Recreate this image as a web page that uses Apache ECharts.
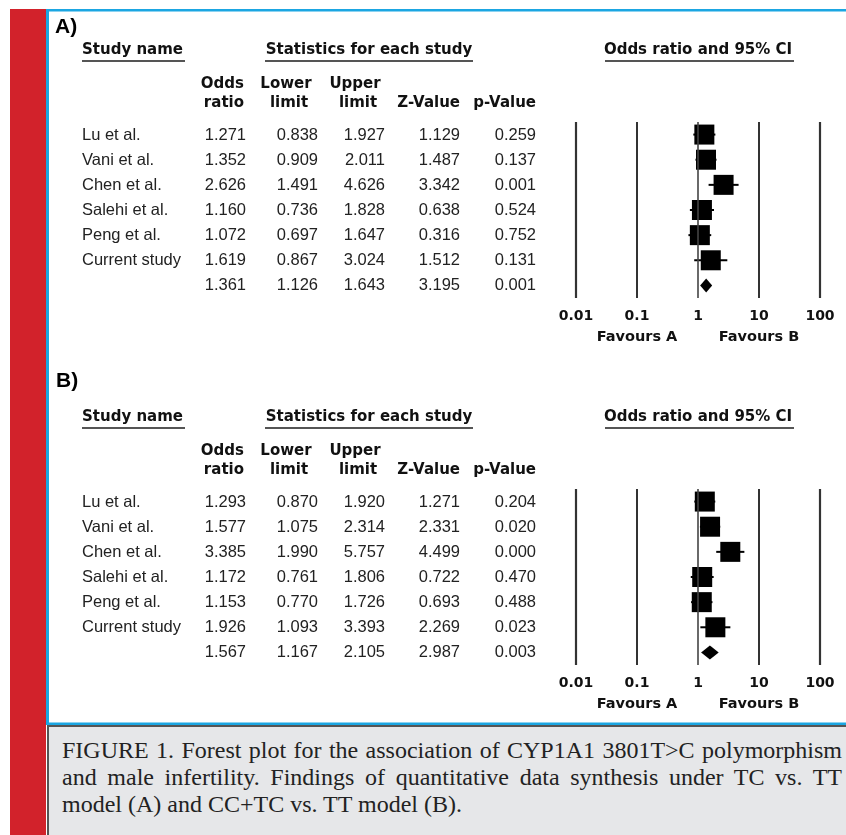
<!DOCTYPE html>
<html>
<head>
<meta charset="utf-8">
<script src="https://cdn.jsdelivr.net/npm/echarts@6/dist/echarts.min.js"></script>
<style>
html,body{margin:0;padding:0;background:#fff;}
#chart{position:absolute;left:0;top:0;width:846px;height:835px;}
#cap{position:absolute;left:47px;top:725px;width:797px;height:108px;background:#e6e7e9;border-left:2px solid #555;border-top:2px solid #555;}
#cap .t{position:absolute;left:13px;top:10px;width:780px;font-family:"Liberation Serif",serif;font-size:24px;line-height:27px;color:#222;}
#cap .j{text-align:justify;text-align-last:justify;white-space:nowrap;}
</style>
</head>
<body>
<div id="chart"></div>
<div id="cap"><div class="t">
<div class="j">FIGURE 1. Forest plot for the association of CYP1A1 3801T&gt;C polymorphism</div>
<div class="j">and male infertility. Findings of quantitative data synthesis under TC vs. TT</div>
<div>model (A) and CC+TC vs. TT model (B).</div>
</div></div>
<script>
// ---- data ----
const studies = ['Lu et al.', 'Vani et al.', 'Chen et al.', 'Salehi et al.', 'Peng et al.', 'Current study', ''];
const tickLabels = ['0.01', '0.1', '1', '10', '100'];

// Panel A (TC vs. TT); last entry = pooled
const orA    = [1.271, 1.352, 2.626, 1.160, 1.072, 1.619, 1.361];
const lowerA = [0.838, 0.909, 1.491, 0.736, 0.697, 0.867, 1.126];
const upperA = [1.927, 2.011, 4.626, 1.828, 1.647, 3.024, 1.643];
const zA     = [1.129, 1.487, 3.342, 0.638, 0.316, 1.512, 3.195];
const pA     = [0.259, 0.137, 0.001, 0.524, 0.752, 0.131, 0.001];

// Panel B (CC+TC vs. TT); last entry = pooled
const orB    = [1.293, 1.577, 3.385, 1.172, 1.153, 1.926, 1.567];
const lowerB = [0.870, 1.075, 1.990, 0.761, 0.770, 1.093, 1.167];
const upperB = [1.920, 2.314, 5.757, 1.806, 1.726, 3.393, 2.105];
const zB     = [1.271, 2.331, 4.499, 0.722, 0.693, 2.269, 2.987];
const pB     = [0.204, 0.020, 0.000, 0.470, 0.488, 0.023, 0.003];

// ---- layout / style ----
const HFONT = 'bold 15px "DejaVu Sans"';
const RFONT = '16.5px "Liberation Sans"';
const panels = [
  {label: 'A)', off: 0, or: orA, lo: lowerA, up: upperA, z: zA, p: pA},
  {label: 'B)', off: 367, or: orB, lo: lowerB, up: upperB, z: zB, p: pB}
];

const graphic = [];
function txt(s, x, y, font, align, color) {
  graphic.push({type: 'text', silent: true, style: {text: s, x: x, y: y, font: font, textAlign: align || 'left', textVerticalAlign: 'middle', fill: color || '#111'}});
}
function ln(x1, y1, x2, y2, w, c) {
  graphic.push({type: 'line', silent: true, shape: {x1: x1, y1: y1, x2: x2, y2: y2}, style: {stroke: c, lineWidth: w}});
}
// frame
graphic.push({type: 'rect', silent: true, shape: {x: 10, y: 9, width: 36, height: 826}, style: {fill: '#d2222b'}});
graphic.push({type: 'rect', silent: true, shape: {x: 46, y: 9, width: 800, height: 2.5}, style: {fill: '#1ba6e2'}});
graphic.push({type: 'rect', silent: true, shape: {x: 46, y: 9, width: 3, height: 716}, style: {fill: '#1ba6e2'}});
graphic.push({type: 'rect', silent: true, shape: {x: 46, y: 722.5, width: 800, height: 2.5}, style: {fill: '#1ba6e2'}});

panels.forEach(function (P) {
  const o = P.off;
  txt(P.label, 55 + (o ? 1 : 0), 27 + o + (o ? -13 : 0), 'bold 21px "Liberation Sans"', 'left', '#000');
  txt('Study name', 82, 50 + o, HFONT);
  ln(82, 61 + o, 185, 61 + o, 2, '#555');
  txt('Statistics for each study', 369, 50 + o, HFONT, 'center');
  ln(265, 61 + o, 473, 61 + o, 2, '#555');
  txt('Odds ratio and 95% CI', 698, 50 + o, HFONT, 'center');
  ln(605, 61 + o, 794, 61 + o, 2, '#555');
  txt('Odds', 244, 84 + o, HFONT, 'right');
  txt('ratio', 244, 103 + o, HFONT, 'right');
  txt('Lower', 286, 84 + o, HFONT, 'center');
  txt('limit', 289, 103 + o, HFONT, 'center');
  txt('Upper', 355, 84 + o, HFONT, 'center');
  txt('limit', 358, 103 + o, HFONT, 'center');
  txt('Z-Value', 460, 103 + o, HFONT, 'right');
  txt('p-Value', 536, 103 + o, HFONT, 'right');
  for (let i = 0; i < studies.length; i++) {
    const y = 135 + 25 * i + o;
    if (studies[i]) txt(studies[i], 82, y, RFONT, 'left', '#222');
    txt(P.or[i].toFixed(3), 246, y, RFONT, 'right', '#222');
    txt(P.lo[i].toFixed(3), 318, y, RFONT, 'right', '#222');
    txt(P.up[i].toFixed(3), 385, y, RFONT, 'right', '#222');
    txt(P.z[i].toFixed(3), 460, y, RFONT, 'right', '#222');
    txt(P.p[i].toFixed(3), 536, y, RFONT, 'right', '#222');
  }
  txt('Favours A', 637, 337 + o, 'bold 14.5px "DejaVu Sans"', 'center');
  txt('Favours B', 759, 337 + o, 'bold 14.5px "DejaVu Sans"', 'center');
});

const grids = [], xAxes = [], yAxes = [], series = [];
panels.forEach(function (P, k) {
  grids.push({left: 576, right: 26, top: 122 + P.off, height: 176});
  xAxes.push({
    type: 'log', logBase: 10, min: 0.01, max: 100, gridIndex: k,
    axisLine: {show: false}, axisTick: {show: false}, splitLine: {show: false},
    axisLabel: {margin: 11, color: '#111', fontFamily: 'DejaVu Sans', fontWeight: 'bold', fontSize: 14,
      formatter: function (v) { return tickLabels[Math.round(Math.log10(v)) + 2]; }}
  });
  yAxes.push({type: 'value', min: -0.5, max: 6.5, inverse: true, show: false, gridIndex: k});
  const ci = [], pts = [];
  for (let i = 0; i < 6; i++) { ci.push([P.lo[i], P.up[i], i]); pts.push([P.or[i], i]); }
  series.push({
    type: 'custom', xAxisIndex: k, yAxisIndex: k, silent: true, z: 3,
    data: ci, encode: {x: [0, 1], y: 2},
    renderItem: function (params, api) {
      const a = api.coord([api.value(0), api.value(2)]);
      const b = api.coord([api.value(1), api.value(2)]);
      return {type: 'line', shape: {x1: a[0], y1: a[1], x2: b[0], y2: b[1]}, style: {stroke: '#000', lineWidth: 2}};
    }
  });
  series.push({
    type: 'scatter', xAxisIndex: k, yAxisIndex: k, silent: true, z: 4,
    symbol: 'rect', symbolSize: 20, itemStyle: {color: '#000', opacity: 1}, data: pts,
    markLine: {
      silent: true, symbol: ['none', 'none'], label: {show: false},
      data: [
        {xAxis: 0.01, lineStyle: {color: '#333', width: 2.2, type: 'solid', opacity: 1}},
        {xAxis: 0.1, lineStyle: {color: '#333', width: 2, type: 'solid', opacity: 1}},
        {xAxis: 1, lineStyle: {color: '#444', width: 1.6, type: 'solid', opacity: 1}},
        {xAxis: 10, lineStyle: {color: '#333', width: 2, type: 'solid', opacity: 1}},
        {xAxis: 100, lineStyle: {color: '#333', width: 2.2, type: 'solid', opacity: 1}}
      ]
    }
  });
  series.push({
    type: 'custom', xAxisIndex: k, yAxisIndex: k, silent: true, z: 4,
    data: [[P.lo[6], P.or[6], P.up[6], 6]], encode: {x: [0, 1, 2], y: 3},
    renderItem: function (params, api) {
      const y = api.value(3);
      const l = api.coord([api.value(0), y]);
      const c = api.coord([api.value(1), y]);
      const r = api.coord([api.value(2), y]);
      return {type: 'polygon', shape: {points: [[l[0] - 1, l[1]], [c[0], c[1] - 7], [r[0] + 1, r[1]], [c[0], c[1] + 7]]}, style: {fill: '#000'}};
    }
  });
});

const chart = echarts.init(document.getElementById('chart'), null, {renderer: 'canvas'});
chart.setOption({
  animation: false,
  backgroundColor: '#fff',
  grid: grids, xAxis: xAxes, yAxis: yAxes, series: series,
  graphic: graphic
});
</script>
</body>
</html>
